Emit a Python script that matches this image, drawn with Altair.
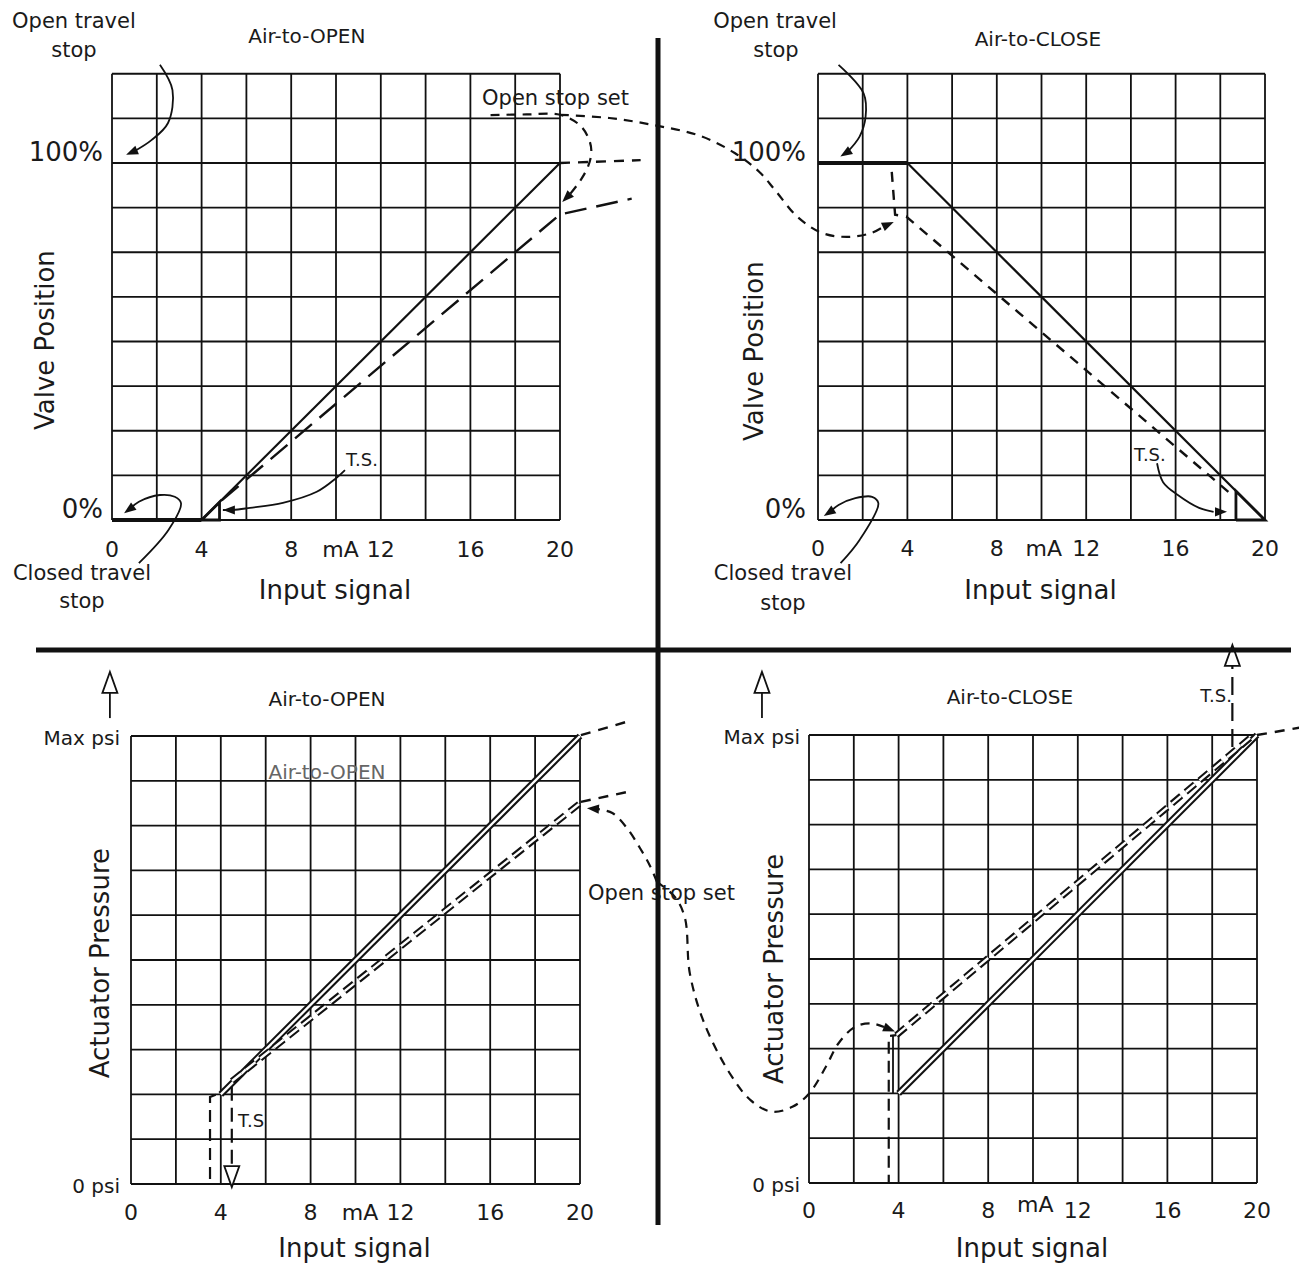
import math
import altair as alt
import pandas as pd

FONT = "DejaVu Sans"
INK = "#111111"

# ---------------- grid, ticks and axis texts (panel units: mA and % of span) -------------
MA_GRID = [0, 2, 4, 6, 8, 10, 12, 14, 16, 18, 20]
TOP_GRID = [0, 12.5, 25, 37.5, 50, 62.5, 75, 87.5, 100, 112.5, 125]
BOT_GRID = [0, 10, 20, 30, 40, 50, 60, 70, 80, 90, 100]
MA_TICKS = [0, 4, 8, 12, 16, 20]
MA_TICK_TEXT = ["0", "4", "8", "12", "16", "20"]
TOP_Y_TICKS = [100, 0]
TOP_Y_TEXT = ["100%", "0%"]
BOT_Y_TICKS = [100, 0]
BOT_Y_TEXT = ["Max psi", "0 psi"]

# ---------------- Air-to-OPEN, valve position (TL) ----------------
TL_STOP_MA, TL_STOP_PCT = [0, 4], [0, 0]
TL_LINE_MA, TL_LINE_PCT = [4, 20], [0, 100]
TL_TRI_MA, TL_TRI_PCT = [4, 4.8, 4.8, 4], [0, 0, 5, 0]
TL_SET_MA, TL_SET_PCT = [4.9, 20, 23.2], [5.5, 85.6, 90]
TL_EXT_MA, TL_EXT_PCT = [20, 23.6], [100, 100.8]
TL_LOOP_MA = [16.9, 18.5, 20, 20.9, 21.3, 21.4, 21.25, 20.9, 20.45]
TL_LOOP_PCT = [113.4, 113.6, 113.5, 110.5, 106.5, 103, 99, 95, 91.3]
TL_LOOP_TIP = (20.1, 89.1)
TL_CROSS_MA = [20, 22.2, 24.2, 26.25, 27.8, 28.9, 29.6, 30.6, 31.7, 32.8, 33.9, 34.45]
TL_CROSS_PCT = [113.5, 112.6, 110.6, 107.6, 102.8, 97.5, 92.4, 84.9, 80.4, 79.3, 80.4, 82.2]
TL_CROSS_TIP = (34.9, 83.5)
TL_TS_MA = [10.4, 10.0, 9.14, 7.63, 6.16, 5.4]
TL_TS_PCT = [14, 11.7, 7.9, 4.8, 3.4, 2.8]
TL_TS_TIP = (4.95, 2.8)
TL_OPEN_MA = [2.14, 2.7, 2.5, 1.76, 1.0]
TL_OPEN_PCT = [127.5, 120.4, 111.2, 106.4, 103.3]
TL_OPEN_TIP = (0.63, 102.3)
TL_CLOSED_MA = [1.2, 2.52, 3.08, 2.8, 2.14, 1.2, 0.8]
TL_CLOSED_PCT = [-12.1, -2.8, 4.7, 6.5, 7.0, 5.1, 3.1]
TL_CLOSED_TIP = (0.54, 1.9)

# ---------------- Air-to-CLOSE, valve position (TR) ----------------
TR_STOP_MA, TR_STOP_PCT = [0, 4], [100, 100]
TR_LINE_MA, TR_LINE_PCT = [4, 20], [100, 0]
TR_TRI_MA, TR_TRI_PCT = [18.7, 20, 18.7, 18.7], [0, 0, 8.1, 0]
TR_SET_MA, TR_SET_PCT = [3.3, 3.45, 3.95, 18.6], [97.5, 85.5, 85, 6.6]
TR_TS_MA = [15.17, 15.44, 16.1, 17.05, 17.7]
TR_TS_PCT = [15.9, 10.6, 7.0, 3.4, 2.3]
TR_TS_TIP = (18.3, 2.3)
TR_OPEN_MA = [0.92, 2.04, 2.13, 1.86, 1.3]
TR_OPEN_PCT = [127.5, 119.5, 113, 107.4, 103.0]
TR_OPEN_TIP = (1.0, 101.8)
TR_CLOSED_MA = [1.01, 1.86, 2.7, 2.42, 1.67, 0.92, 0.55]
TR_CLOSED_PCT = [-12.1, -5.6, 4.7, 6.5, 6.1, 4.2, 2.3]
TR_CLOSED_TIP = (0.26, 1.1)

# ---------------- Air-to-OPEN, actuator pressure (BL) ----------------
BL_LINE_MA, BL_LINE_PCT = [4, 20], [20, 100]
BL_LINE_EXT_MA, BL_LINE_EXT_PCT = [20.04, 22.1], [100.2, 103.2]
BL_SET_MA, BL_SET_PCT = [4.5, 20], [23, 85]
BL_SET_EXT_MA, BL_SET_EXT_PCT = [20.04, 22.1], [85.3, 87.5]
BL_ZERO_MA, BL_ZERO_PCT = [0.36, 3.52, 3.52, 4.05], [0, 0, 19.4, 20.5]
BL_TS_MA, BL_TS_PCT = [4.49, 4.49], [21.7, 4.5]
BL_TS_TIP = (4.49, -0.7)
BL_UP_MA, BL_UP_PCT = [-0.94, -0.94], [104, 110.5]
BL_UP_TIP = (-0.94, 114.3)
BL_ARC_MA = [23.43, 23.12, 22.67, 22.09, 21.44, 20.8]
BL_ARC_PCT = [67.4, 71.0, 75.0, 79.46, 82.8, 83.7]
BL_ARC_TIP = (20.31, 83.86)

# ---------------- Air-to-CLOSE, actuator pressure (BR) ----------------
BR_LINE_MA, BR_LINE_PCT = [4, 20], [20, 100]
BR_LINE_EXT_MA, BR_LINE_EXT_PCT = [20, 21.99], [100, 101.7]
BR_SET_MA, BR_SET_PCT = [3.9, 19.75], [33, 99.6]
BR_ZERO_MA, BR_ZERO_PCT = [0, 3.56, 3.56, 3.9], [0, 0, 32.8, 33]
BR_STEP_MA, BR_STEP_PCT = [3.75, 3.75], [20, 33]
BR_TS_MA, BR_TS_PCT = [18.9, 18.9], [97.3, 115.4]
BR_TS_TIP = (18.9, 120.1)
BR_UP_MA, BR_UP_PCT = [-2.1, -2.1], [103.8, 110]
BR_UP_TIP = (-2.1, 114.1)
BR_ARC_MA = [-6.79, -5.98, -5.54, -5.32, -4.67, -3.54, -2.61, -1.67, -0.74, 0.01, 0.76,
             1.32, 2.07, 2.81, 3.35]
BR_ARC_PCT = [67.2, 63.8, 59.2, 46.8, 35.6, 24.5, 18.5, 15.9, 17.0, 20.0, 26.0,
              31.2, 34.9, 35.6, 34.8]
BR_ARC_TIP = (3.84, 33.8)

# ---------------- free texts (panel, text, mA, %, size, angle) ----------------
NOTES = [
    ("TL", "Air-to-OPEN", 8.7, 135.3, 20, 0),
    ("TL", "Open travel", -1.7, 139.5, 21, 0),
    ("TL", "stop", -1.7, 131.4, 21, 0),
    ("TL", "Closed travel", -1.34, -15.1, 21, 0),
    ("TL", "stop", -1.34, -23.0, 21, 0),
    ("TL", "Valve Position", -2.95, 50.4, 26, 270),
    ("TL", "Open stop set", 19.8, 117.9, 21, 0),
    ("TL", "T.S.", 11.16, 16.5, 18, 0),
    ("TR", "Air-to-CLOSE", 9.84, 134.5, 20, 0),
    ("TR", "Open travel", -1.92, 139.5, 21, 0),
    ("TR", "stop", -1.88, 131.4, 21, 0),
    ("TR", "Closed travel", -1.57, -15.1, 21, 0),
    ("TR", "stop", -1.57, -23.5, 21, 0),
    ("TR", "Valve Position", -2.82, 47.3, 26, 270),
    ("TR", "T.S.", 14.85, 17.9, 18, 0),
    ("BL", "Air-to-OPEN", 8.73, 108, 20, 0),
    ("BL", "Actuator Pressure", -1.34, 49.3, 26, 270),
    ("BL", "T.S", 5.35, 13.8, 18, 0),
    ("BL", "Open stop set", 23.63, 64.7, 21, 0),
    ("BR", "Air-to-CLOSE", 8.97, 108.3, 20, 0),
    ("BR", "Actuator Pressure", -1.52, 47.8, 26, 270),
    ("BR", "T.S.", 18.17, 108.5, 18, 0),
]
GHOST_NOTES = [("BL", "Air-to-OPEN", 8.73, 91.7, 20, 0)]
X_TITLE = "Input signal"
UNIT = "mA"
UNIT_AT = {"TL": 10.2, "TR": 10.1, "BL": 10.2, "BR": 10.1}

# ---------------- layout (page pixels) ----------------
PANELS = {
    "TL": dict(x0=112, x20=560, y0=520, y100=163, top=125, tick_dy=30, title_dy=71, unit_dy=0),
    "TR": dict(x0=818, x20=1265, y0=520, y100=163, top=125, tick_dy=29, title_dy=71, unit_dy=0),
    "BL": dict(x0=131, x20=580, y0=1184, y100=736, top=100, tick_dy=29, title_dy=65, unit_dy=0),
    "BR": dict(x0=809, x20=1257, y0=1183, y100=735, top=100, tick_dy=28, title_dy=66, unit_dy=-6),
}
YLAB = {"TL": (9, -10), "TR": (12, -10), "BL": (11, 3), "BR": (9, 3)}
FRAME = [((658, 38), (658, 1225)), ((36, 650), (1291, 650))]
W, H = 1291, 1257


def px(panel, ma, v):
    p = PANELS[panel]
    return (p["x0"] + (p["x20"] - p["x0"]) * ma / 20.0,
            p["y0"] + (p["y100"] - p["y0"]) * v / 100.0)


line_rows = []
_id = [0]


def add(layer, panel, mas, vals):
    _id[0] += 1
    for i, (m, v) in enumerate(zip(mas, vals)):
        x, y = px(panel, m, v)
        line_rows.append(dict(layer=layer, id=_id[0], i=i, x=x, y=y))


def add_px(layer, pts):
    _id[0] += 1
    for i, (x, y) in enumerate(pts):
        line_rows.append(dict(layer=layer, id=_id[0], i=i, x=x, y=y))


head_rows = []


def head(kind, panel, tip, prev):
    tx, ty = px(panel, *tip)
    qx, qy = px(panel, *prev)
    ang = math.degrees(math.atan2(tx - qx, -(ty - qy))) % 360
    head_rows.append(dict(kind=kind, x=tx, y=ty, angle=ang))


# grids
for pn, p in PANELS.items():
    rows = TOP_GRID if p["top"] == 125 else BOT_GRID
    for m in MA_GRID:
        add("grid", pn, [m, m], [0, p["top"]])
    for v in rows:
        add("grid", pn, [0, 20], [v, v])

# TL
add("thick", "TL", TL_STOP_MA, TL_STOP_PCT)
add("main", "TL", TL_LINE_MA, TL_LINE_PCT)
add("tri", "TL", TL_TRI_MA, TL_TRI_PCT)
add("longdash", "TL", TL_SET_MA, TL_SET_PCT)
add("shortdash", "TL", TL_EXT_MA, TL_EXT_PCT)
add("curvedash", "TL", TL_LOOP_MA, TL_LOOP_PCT)
head("filled", "TL", TL_LOOP_TIP, (TL_LOOP_MA[-1], TL_LOOP_PCT[-1]))
add("curvedash", "TL", TL_CROSS_MA, TL_CROSS_PCT)
head("filled", "TL", TL_CROSS_TIP, (TL_CROSS_MA[-1], TL_CROSS_PCT[-1]))
add("curve", "TL", TL_TS_MA + [TL_TS_TIP[0]], TL_TS_PCT + [TL_TS_TIP[1]])
head("filled", "TL", TL_TS_TIP, (TL_TS_MA[-1], TL_TS_PCT[-1]))
add("curve", "TL", TL_OPEN_MA, TL_OPEN_PCT)
head("filled", "TL", TL_OPEN_TIP, (TL_OPEN_MA[-1], TL_OPEN_PCT[-1]))
add("curve", "TL", TL_CLOSED_MA, TL_CLOSED_PCT)
head("filled", "TL", TL_CLOSED_TIP, (TL_CLOSED_MA[-1], TL_CLOSED_PCT[-1]))

# TR
add("thick", "TR", TR_STOP_MA, TR_STOP_PCT)
add("main", "TR", TR_LINE_MA, TR_LINE_PCT)
add("tri", "TR", TR_TRI_MA, TR_TRI_PCT)
add("shortdash", "TR", TR_SET_MA, TR_SET_PCT)
add("curve", "TR", TR_TS_MA, TR_TS_PCT)
head("filled", "TR", TR_TS_TIP, (TR_TS_MA[-1], TR_TS_PCT[-1]))
add("curve", "TR", TR_OPEN_MA, TR_OPEN_PCT)
head("filled", "TR", TR_OPEN_TIP, (TR_OPEN_MA[-1], TR_OPEN_PCT[-1]))
add("curve", "TR", TR_CLOSED_MA, TR_CLOSED_PCT)
head("filled", "TR", TR_CLOSED_TIP, (TR_CLOSED_MA[-1], TR_CLOSED_PCT[-1]))

# BL
add("double", "BL", BL_LINE_MA, BL_LINE_PCT)
add("shortdash", "BL", BL_LINE_EXT_MA, BL_LINE_EXT_PCT)
add("doubledash", "BL", BL_SET_MA, BL_SET_PCT)
add("shortdash", "BL", BL_SET_EXT_MA, BL_SET_EXT_PCT)
add("zerodash", "BL", BL_ZERO_MA, BL_ZERO_PCT)
add("tsdash", "BL", BL_TS_MA, BL_TS_PCT)
head("hollow", "BL", BL_TS_TIP, (BL_TS_MA[-1], BL_TS_PCT[-1]))
add("thin", "BL", BL_UP_MA, BL_UP_PCT)
head("hollow", "BL", BL_UP_TIP, (BL_UP_MA[-1], BL_UP_PCT[-1]))
add("curvedash", "BL", BL_ARC_MA, BL_ARC_PCT)
head("filled", "BL", BL_ARC_TIP, (BL_ARC_MA[-1], BL_ARC_PCT[-1]))

# BR
add("double", "BR", BR_LINE_MA, BR_LINE_PCT)
add("shortdash", "BR", BR_LINE_EXT_MA, BR_LINE_EXT_PCT)
add("doubledash", "BR", BR_SET_MA, BR_SET_PCT)
add("zerodash", "BR", BR_ZERO_MA, BR_ZERO_PCT)
add("thin", "BR", BR_STEP_MA, BR_STEP_PCT)
add("tslong", "BR", BR_TS_MA, BR_TS_PCT)
head("hollow", "BR", BR_TS_TIP, (BR_TS_MA[-1], BR_TS_PCT[-1]))
add("thin", "BR", BR_UP_MA, BR_UP_PCT)
head("hollow", "BR", BR_UP_TIP, (BR_UP_MA[-1], BR_UP_PCT[-1]))
add("curvedash", "BR", BR_ARC_MA, BR_ARC_PCT)
head("filled", "BR", BR_ARC_TIP, (BR_ARC_MA[-1], BR_ARC_PCT[-1]))

for a, b in FRAME:
    add_px("frame", [a, b])

lines = pd.DataFrame(line_rows)
heads = pd.DataFrame(head_rows)

# texts
center_rows, right_rows = [], []
for pn, p in PANELS.items():
    for t, lab in zip(MA_TICKS, MA_TICK_TEXT):
        x, y = px(pn, t, 0)
        center_rows.append(dict(x=x, y=y + p["tick_dy"], text=lab, size=22, angle=0, color="#1a1a1a"))
    x, y = px(pn, UNIT_AT[pn], 0)
    center_rows.append(dict(x=x, y=y + p["tick_dy"] + p["unit_dy"], text=UNIT, size=22, angle=0, color="#1a1a1a"))
    x, y = px(pn, 10, 0)
    center_rows.append(dict(x=x - 1, y=y + p["title_dy"], text=X_TITLE, size=26, angle=0, color="#1a1a1a"))
    ticks, texts = (TOP_Y_TICKS, TOP_Y_TEXT) if p["top"] == 125 else (BOT_Y_TICKS, BOT_Y_TEXT)
    dx, dy = YLAB[pn]
    for v, lab in zip(ticks, texts):
        x, y = px(pn, 0, v)
        size = 26 if p["top"] == 125 else 20
        right_rows.append(dict(x=x - dx, y=y + dy, text=lab, size=size, angle=0, color="#1a1a1a"))
for pn, t, m, v, s, a in NOTES:
    x, y = px(pn, m, v)
    center_rows.append(dict(x=x, y=y, text=t, size=s, angle=a, color="#1a1a1a"))
for pn, t, m, v, s, a in GHOST_NOTES:
    x, y = px(pn, m, v)
    center_rows.append(dict(x=x, y=y, text=t, size=s, angle=a, color="#666666"))

center_df = pd.DataFrame(center_rows)
right_df = pd.DataFrame(right_rows)

XS = alt.Scale(domain=[8, 8 + W], nice=False, zero=False)
YS = alt.Scale(domain=[8, 8 + H], nice=False, zero=False, reverse=True)


def pos():
    return dict(x=alt.X("x:Q", scale=XS, axis=None), y=alt.Y("y:Q", scale=YS, axis=None))


def line_layer(name, width, dash=None, color=INK, interp="linear"):
    kw = dict(strokeWidth=width, color=color, interpolate=interp, strokeCap="butt", strokeJoin="miter")
    if dash:
        kw["strokeDash"] = dash
    df = lines[lines.layer == name]
    return alt.Chart(df).mark_line(**kw).encode(**pos(), detail="id:N", order="i:Q")


FILLED_HEAD = "M0,0L-1.15,3L1.15,3Z"
HOLLOW_HEAD = "M0,0L-1.5,4.2L1.5,4.2Z"

layers = [
    line_layer("grid", 1.8),
    line_layer("double", 6.5),
    line_layer("double", 2.4, color="white"),
    line_layer("doubledash", 6.5, dash=[12, 6]),
    line_layer("doubledash", 2.4, dash=[12, 6], color="white"),
    line_layer("main", 2.2),
    line_layer("thick", 4.0),
    line_layer("tri", 2.8),
    line_layer("thin", 1.8),
    line_layer("longdash", 2.4, dash=[22, 10]),
    line_layer("shortdash", 2.4, dash=[10, 8]),
    line_layer("zerodash", 2.2, dash=[12, 7]),
    line_layer("tsdash", 2.2, dash=[14, 7]),
    line_layer("tslong", 2.2, dash=[18, 8]),
    line_layer("curvedash", 2.2, dash=[9, 7], interp="catmull-rom"),
    line_layer("curve", 1.8, interp="catmull-rom"),
    alt.Chart(heads[heads.kind == "filled"]).mark_point(
        shape=FILLED_HEAD, filled=True, size=64, opacity=1, color=INK, strokeWidth=0
    ).encode(**pos(), angle=alt.Angle("angle:Q", scale=None)),
    alt.Chart(heads[heads.kind == "hollow"]).mark_point(
        shape=HOLLOW_HEAD, filled=True, fill="white", stroke=INK, strokeWidth=1.8, size=100, opacity=1
    ).encode(**pos(), angle=alt.Angle("angle:Q", scale=None)),
    alt.Chart(center_df).mark_text(font=FONT, align="center", baseline="middle").encode(
        **pos(), text="text:N", size=alt.Size("size:Q", scale=None),
        angle=alt.Angle("angle:Q", scale=None), color=alt.Color("color:N", scale=None)),
    alt.Chart(right_df).mark_text(font=FONT, align="right", baseline="middle").encode(
        **pos(), text="text:N", size=alt.Size("size:Q", scale=None),
        color=alt.Color("color:N", scale=None)),
    line_layer("frame", 5.0),
]

chart = alt.layer(*layers).properties(
    width=W, height=H, padding=0, background="white",
    autosize=alt.AutoSizeParams(type="none"),
).configure_view(strokeWidth=0)

chart.save("out.html", embed_options={"renderer": "svg", "actions": False})
